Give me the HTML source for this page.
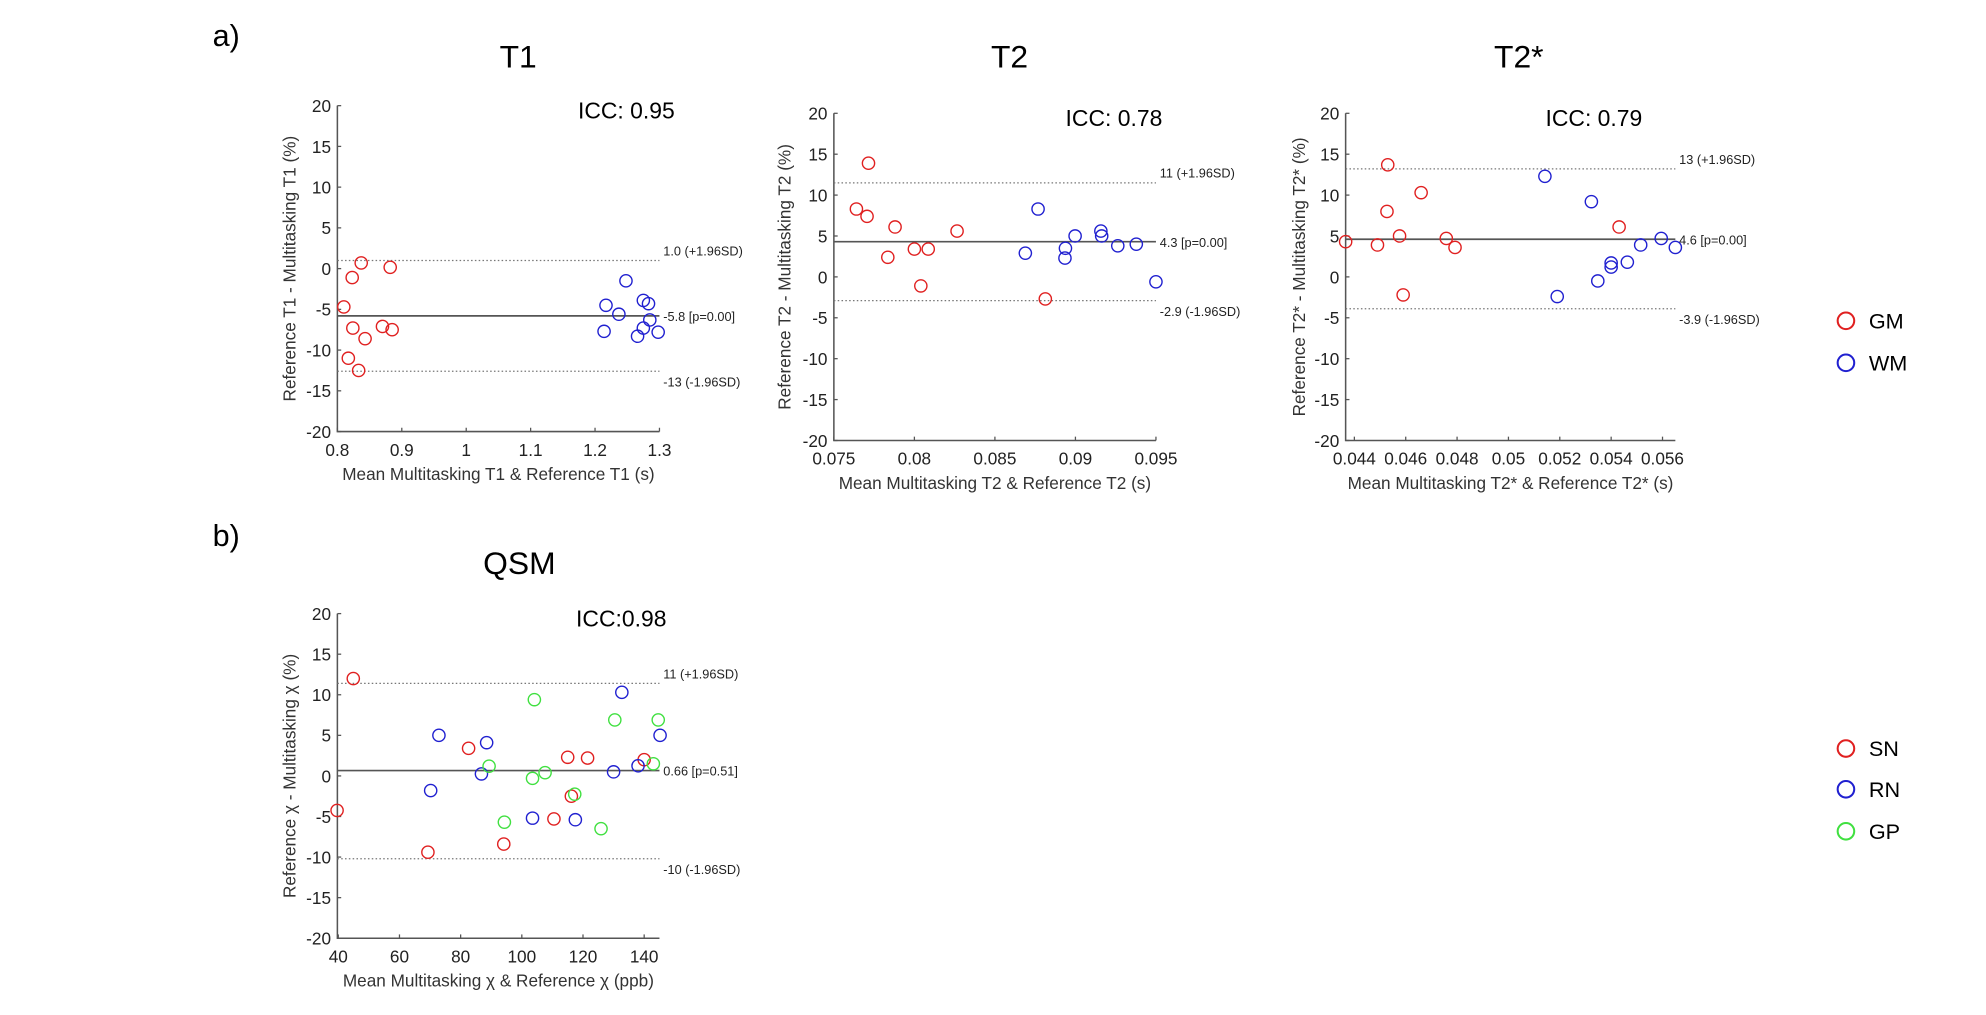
<!DOCTYPE html>
<html><head><meta charset="utf-8">
<style>
html,body{margin:0;padding:0;background:#fff;}
svg{display:block;font-family:"Liberation Sans",sans-serif;}
</style></head>
<body>
<svg id="fig" width="1986" height="1015" viewBox="0 0 1560 797.3" xmlns="http://www.w3.org/2000/svg">
<text x="167" y="36" font-size="24">a)</text>
<text x="167" y="429" font-size="24">b)</text>
<g id="legend-a">
 <circle cx="1450" cy="252" r="6.5" fill="none" stroke="#e02020" stroke-width="1.6"/>
 <text x="1468" y="258" font-size="17">GM</text>
 <circle cx="1450" cy="285" r="6.5" fill="none" stroke="#2020d0" stroke-width="1.6"/>
 <text x="1468" y="291" font-size="17">WM</text>
</g>
<g id="legend-b">
 <circle cx="1450" cy="588" r="6.5" fill="none" stroke="#e02020" stroke-width="1.6"/>
 <text x="1468" y="594" font-size="17">SN</text>
 <circle cx="1450" cy="620" r="6.5" fill="none" stroke="#2020d0" stroke-width="1.6"/>
 <text x="1468" y="626" font-size="17">RN</text>
 <circle cx="1450" cy="653" r="6.5" fill="none" stroke="#40e040" stroke-width="1.6"/>
 <text x="1468" y="659" font-size="17">GP</text>
</g>
</svg>
<script>
// ---- data ----
const yTicks = [20,15,10,5,0,-5,-10,-15,-20];
const t1XTicks = [0.8,0.9,1,1.1,1.2,1.3];
const t1XTickLabels = ["0.8","0.9","1","1.1","1.2","1.3"];
const t1GmX = [0.837,0.882,0.823,0.810,0.824,0.870,0.885,0.843,0.817,0.833];
const t1GmY = [0.7,0.16,-1.1,-4.7,-7.3,-7.1,-7.5,-8.6,-11,-12.5];
const t1WmX = [1.248,1.217,1.237,1.275,1.283,1.285,1.275,1.214,1.266,1.298];
const t1WmY = [-1.5,-4.5,-5.6,-3.9,-4.3,-6.3,-7.3,-7.7,-8.3,-7.8];
const t1Lines = [1.0,-5.8,-12.6];
const t1LineLabels = ["1.0 (+1.96SD)","-5.8 [p=0.00]","-13 (-1.96SD)"];

const t2XTicks = [0.075,0.08,0.085,0.09,0.095];
const t2XTickLabels = ["0.075","0.08","0.085","0.09","0.095"];
const t2GmX = [0.07715,0.0764,0.07706,0.0788,0.08265,0.0800,0.08086,0.07835,0.0804,0.08813];
const t2GmY = [13.9,8.3,7.4,6.1,5.6,3.4,3.4,2.4,-1.1,-2.7];
const t2WmX = [0.08768,0.08998,0.09158,0.09163,0.09263,0.09378,0.08689,0.08938,0.08935,0.0950];
const t2WmY = [8.3,5.0,5.6,5.0,3.8,4.0,2.9,3.5,2.3,-0.6];
const t2Lines = [11.5,4.3,-2.9];
const t2LineLabels = ["11 (+1.96SD)","4.3 [p=0.00]","-2.9 (-1.96SD)"];

const t2sXTicks = [0.044,0.046,0.048,0.05,0.052,0.054,0.056];
const t2sXTickLabels = ["0.044","0.046","0.048","0.05","0.052","0.054","0.056"];
const t2sGmX = [0.04366,0.0449,0.0453,0.04527,0.04576,0.0466,0.0459,0.04758,0.04792,0.05431];
const t2sGmY = [4.3,3.9,13.7,8.0,5.0,10.3,-2.2,4.7,3.6,6.1];
const t2sWmX = [0.05142,0.05323,0.0519,0.05348,0.0540,0.0540,0.05463,0.05515,0.05595,0.0565];
const t2sWmY = [12.3,9.2,-2.4,-0.5,1.7,1.2,1.8,3.9,4.7,3.6];
const t2sLines = [13.2,4.6,-3.9];
const t2sLineLabels = ["13 (+1.96SD)","4.6 [p=0.00]","-3.9 (-1.96SD)"];

const qsmXTicks = [40,60,80,100,120,140];
const qsmXTickLabels = ["40","60","80","100","120","140"];
const qsmSnX = [39.6,44.9,69.3,82.6,94.1,110.5,115,121.5,116.2,140];
const qsmSnY = [-4.25,12.0,-9.4,3.4,-8.4,-5.3,2.3,2.2,-2.5,2.0];
const qsmRnX = [72.9,70.2,88.5,86.8,103.5,117.5,132.7,130,138,145.2];
const qsmRnY = [5.0,-1.8,4.1,0.25,-5.2,-5.4,10.3,0.5,1.25,5.0];
const qsmGpX = [104.1,130.4,144.6,89.3,107.6,103.5,117.3,94.3,125.9,143];
const qsmGpY = [9.4,6.9,6.9,1.2,0.4,-0.3,-2.25,-5.7,-6.5,1.5];
const qsmLines = [11.4,0.66,-10.2];
const qsmLineLabels = ["11 (+1.96SD)","0.66 [p=0.51]","-10 (-1.96SD)"];

const RED="#e02020", BLUE="#2020d0", GREEN="#40e040";
const NS="http://www.w3.org/2000/svg";
const svg=document.getElementById('fig');
function mk(tag,attrs,parent){const e=document.createElementNS(NS,tag);for(const k in attrs)e.setAttribute(k,attrs[k]);(parent||svg).appendChild(e);return e;}

function plot(o){
  const g=mk('g',{});
  
  
  const sx=v=>o.x0+(v-o.xmin)/(o.xmax-o.xmin)*(o.x1-o.x0);
  const sy=v=>o.yb+(v+20)/40*(o.yt-o.yb);
  // title
  const t=mk('text',{x:o.titleX,y:o.titleY,'font-size':25,'text-anchor':'middle','font-family':'"Liberation Sans",sans-serif'},g);
  t.textContent=o.title;
  
  
  const icc=mk('text',{x:o.iccX,y:o.yt+10,'font-size':18,'text-anchor':'middle'},g);
  icc.textContent=o.icc;
  
  
  // axes
  const ax=mk('path',{d:`M${o.x0},${o.yt} V${o.yb} H${o.x1}`,fill:'none',stroke:'#555','stroke-width':1.2},g);
  
  
  yTicks.forEach(v=>{
    const y=sy(v);
    mk('line',{x1:o.x0,x2:o.x0+3,y1:y,y2:y,stroke:'#555','stroke-width':1},g);
    const tl=mk('text',{x:o.x0-5,y:y+5,'font-size':13.5,'text-anchor':'end',fill:'#222'},g);
    tl.textContent=String(v);
    
    
  });
  o.xt.forEach((v,i)=>{
    const x=sx(v);
    mk('line',{x1:x,x2:x,y1:o.yb,y2:o.yb-3,stroke:'#555','stroke-width':1},g);
    const tl=mk('text',{x:x,y:o.yb+19,'font-size':13.5,'text-anchor':'middle',fill:'#222'},g);
    tl.textContent=o.xtl[i];
    
    
  });
  const xl=mk('text',{x:(o.x0+o.x1)/2,y:o.yb+38,'font-size':13.5,'text-anchor':'middle',fill:'#333'},g);
  xl.textContent=o.xlabel;
  
  
  const yc=(o.yt+o.yb)/2;
  const yl=mk('text',{x:o.ylx,y:yc,'font-size':13.5,'text-anchor':'middle',fill:'#333',transform:`rotate(-90 ${o.ylx} ${yc})`},g);
  yl.textContent=o.ylabel;
  
  
  // reference lines
  o.lines.forEach((v,i)=>{
    const y=sy(v);
    const ln=mk('line',{x1:o.x0,x2:o.x1,y1:y,y2:y,stroke:i===1?'#555':'#777','stroke-width':i===1?1.3:1,'stroke-dasharray':i===1?'':'1.2 1.8'},g);
    
    
    const dy=i===0?-4:(i===1?4:12);
    const lt=mk('text',{x:o.x1+3,y:y+dy,'font-size':10,fill:'#222'},g);
    lt.textContent=o.lineLabels[i];
    
    
  });
  // points
  o.series.forEach(s=>{
    s.x.forEach((xv,i)=>{
      const c=mk('circle',{cx:sx(xv),cy:sy(s.y[i]),r:4.8,fill:'none',stroke:s.color,'stroke-width':1.1},g);
      
      
    });
  });
}

plot({name:'t1',title:'T1',titleX:407,titleY:53,icc:'ICC: 0.95',iccX:492,x0:265,x1:518,yt:83,yb:339,xmin:0.8,xmax:1.3,
  xt:t1XTicks,xtl:t1XTickLabels,xlabel:'Mean Multitasking T1 & Reference T1 (s)',ylabel:'Reference T1 - Multitasking T1 (%)',ylx:232,
  lines:t1Lines,lineLabels:t1LineLabels,series:[{name:'gm',x:t1GmX,y:t1GmY,color:RED},{name:'wm',x:t1WmX,y:t1WmY,color:BLUE}]});
plot({name:'t2',title:'T2',titleX:793,titleY:53,icc:'ICC: 0.78',iccX:875,x0:655,x1:908,yt:89,yb:346,xmin:0.075,xmax:0.095,
  xt:t2XTicks,xtl:t2XTickLabels,xlabel:'Mean Multitasking T2 & Reference T2 (s)',ylabel:'Reference T2 - Multitasking T2 (%)',ylx:621,
  lines:t2Lines,lineLabels:t2LineLabels,series:[{name:'gm',x:t2GmX,y:t2GmY,color:RED},{name:'wm',x:t2WmX,y:t2WmY,color:BLUE}]});
plot({name:'t2star',title:'T2*',titleX:1193,titleY:53,icc:'ICC: 0.79',iccX:1252,x0:1057,x1:1316,yt:89,yb:346,xmin:0.04366,xmax:0.0565,
  xt:t2sXTicks,xtl:t2sXTickLabels,xlabel:'Mean Multitasking T2* & Reference T2* (s)',ylabel:'Reference T2* - Multitasking T2* (%)',ylx:1025,
  lines:t2sLines,lineLabels:t2sLineLabels,series:[{name:'gm',x:t2sGmX,y:t2sGmY,color:RED},{name:'wm',x:t2sWmX,y:t2sWmY,color:BLUE}]});
plot({name:'qsm',title:'QSM',titleX:408,titleY:451,icc:'ICC:0.98',iccX:488,x0:265,x1:518,yt:482,yb:737,xmin:39.7,xmax:145,
  xt:qsmXTicks,xtl:qsmXTickLabels,xlabel:'Mean Multitasking χ & Reference χ (ppb)',ylabel:'Reference χ - Multitasking χ (%)',ylx:232,
  lines:qsmLines,lineLabels:qsmLineLabels,series:[{name:'sn',x:qsmSnX,y:qsmSnY,color:RED},{name:'rn',x:qsmRnX,y:qsmRnY,color:BLUE},{name:'gp',x:qsmGpX,y:qsmGpY,color:GREEN}]});
</script>
</body></html>
